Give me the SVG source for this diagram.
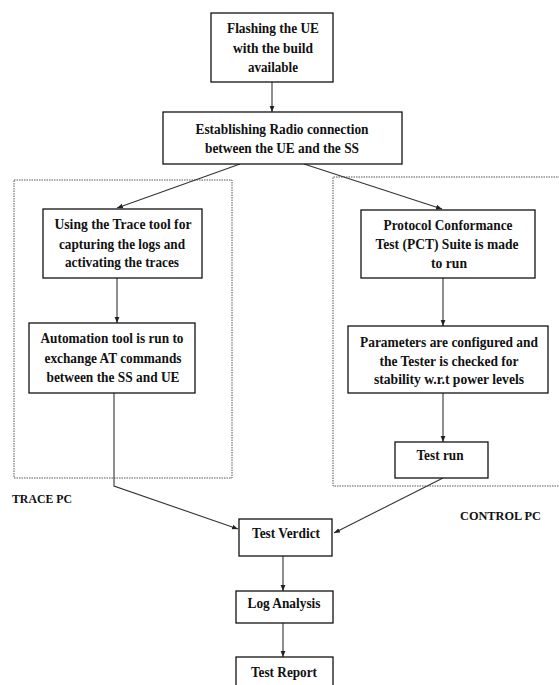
<svg xmlns="http://www.w3.org/2000/svg" width="559" height="685" viewBox="0 0 559 685">
  <defs>
    <marker id="arrow" viewBox="0 0 10 10" refX="10" refY="5" markerWidth="6" markerHeight="6" markerUnits="userSpaceOnUse" orient="auto">
      <path d="M0,1 L10,5 L0,9 z" fill="#222"/>
    </marker>
    <style>
      .box { fill: #fff; stroke: #111; stroke-width: 1.3; }
      .zone { fill: none; stroke: #555; stroke-width: 1; stroke-dasharray: 1.5 1; }
      .conn { fill: none; stroke: #333; stroke-width: 1.1; marker-end: url(#arrow); }
      .t { font-family: "Liberation Serif", "Times New Roman", serif; font-weight: bold; font-size: 15px; fill: #111; text-anchor: middle; }
      .lbl { font-family: "Liberation Serif", "Times New Roman", serif; font-weight: bold; font-size: 13px; fill: #111; }
    </style>
  </defs>

  <rect width="559" height="685" fill="#fff"/>

  <!-- PC zones -->
  <g id="trace-pc">
    <rect class="zone" x="14" y="180" width="218" height="298"/>
    <text class="lbl" x="12" y="503" textLength="60" lengthAdjust="spacingAndGlyphs">TRACE PC</text>
  </g>
  <g id="control-pc">
    <path class="zone" d="M565,177 H333 V486 H565"/>
    <text class="lbl" x="460" y="520" textLength="81" lengthAdjust="spacingAndGlyphs">CONTROL PC</text>
  </g>

  <!-- connectors -->
  <g id="connectors">
    <path class="conn" d="M272,82 V112"/>
    <path class="conn" d="M240,164 L117,208"/>
    <path class="conn" d="M304,164 L442,209"/>
    <path class="conn" d="M117,278 V323"/>
    <path class="conn" d="M114,393 V486 L238,529"/>
    <path class="conn" d="M443,278 V326"/>
    <path class="conn" d="M443,393 V442"/>
    <path class="conn" d="M443,478 L334,533"/>
    <path class="conn" d="M283,556 V591"/>
    <path class="conn" d="M283,623 V657"/>
  </g>

  <g id="flash">
    <rect class="box" x="211" y="13" width="122" height="69"/>
    <text class="t" x="273" y="33" textLength="92" lengthAdjust="spacingAndGlyphs">Flashing the UE</text>
    <text class="t" x="273" y="53" textLength="80" lengthAdjust="spacingAndGlyphs">with the build</text>
    <text class="t" x="273" y="72" textLength="50" lengthAdjust="spacingAndGlyphs">available</text>
  </g>

  <g id="radio">
    <rect class="box" x="163" y="112" width="239" height="52"/>
    <text class="t" x="282" y="134" textLength="173" lengthAdjust="spacingAndGlyphs">Establishing Radio connection</text>
    <text class="t" x="282" y="153" textLength="154" lengthAdjust="spacingAndGlyphs">between the UE and the SS</text>
  </g>

  <g id="trace-tool">
    <rect class="box" x="43" y="209" width="159" height="69"/>
    <text class="t" x="123" y="229" textLength="137" lengthAdjust="spacingAndGlyphs">Using the Trace tool for</text>
    <text class="t" x="122" y="249" textLength="126" lengthAdjust="spacingAndGlyphs">capturing the logs and</text>
    <text class="t" x="122" y="267" textLength="114" lengthAdjust="spacingAndGlyphs">activating the traces</text>
  </g>

  <g id="automation">
    <rect class="box" x="29" y="323" width="166" height="70"/>
    <text class="t" x="112" y="343" textLength="143" lengthAdjust="spacingAndGlyphs">Automation tool is run to</text>
    <text class="t" x="113" y="363" textLength="137" lengthAdjust="spacingAndGlyphs">exchange AT commands</text>
    <text class="t" x="113" y="382" textLength="133" lengthAdjust="spacingAndGlyphs">between the SS and UE</text>
  </g>

  <g id="pct">
    <rect class="box" x="361" y="210" width="174" height="68"/>
    <text class="t" x="448" y="230" textLength="129" lengthAdjust="spacingAndGlyphs">Protocol Conformance</text>
    <text class="t" x="447" y="249" textLength="143" lengthAdjust="spacingAndGlyphs">Test (PCT) Suite is made</text>
    <text class="t" x="449" y="268" textLength="36" lengthAdjust="spacingAndGlyphs">to run</text>
  </g>

  <g id="parameters">
    <rect class="box" x="348" y="326" width="200" height="67"/>
    <text class="t" x="449" y="347" textLength="178" lengthAdjust="spacingAndGlyphs">Parameters are configured and</text>
    <text class="t" x="449" y="366" textLength="139" lengthAdjust="spacingAndGlyphs">the Tester is checked for</text>
    <text class="t" x="449" y="384" textLength="150" lengthAdjust="spacingAndGlyphs">stability w.r.t power levels</text>
  </g>

  <g id="test-run">
    <rect class="box" x="395" y="442" width="93" height="36"/>
    <text class="t" x="440" y="460" textLength="47" lengthAdjust="spacingAndGlyphs">Test run</text>
  </g>

  <g id="verdict">
    <rect class="box" x="239" y="519" width="93" height="37"/>
    <text class="t" x="286" y="538" textLength="68" lengthAdjust="spacingAndGlyphs">Test Verdict</text>
  </g>

  <g id="log-analysis">
    <rect class="box" x="236" y="591" width="97" height="32"/>
    <text class="t" x="284" y="608" textLength="73" lengthAdjust="spacingAndGlyphs">Log Analysis</text>
  </g>

  <g id="report">
    <rect class="box" x="236" y="657" width="97" height="40"/>
    <text class="t" x="284" y="677" textLength="66" lengthAdjust="spacingAndGlyphs">Test Report</text>
  </g>
</svg>
